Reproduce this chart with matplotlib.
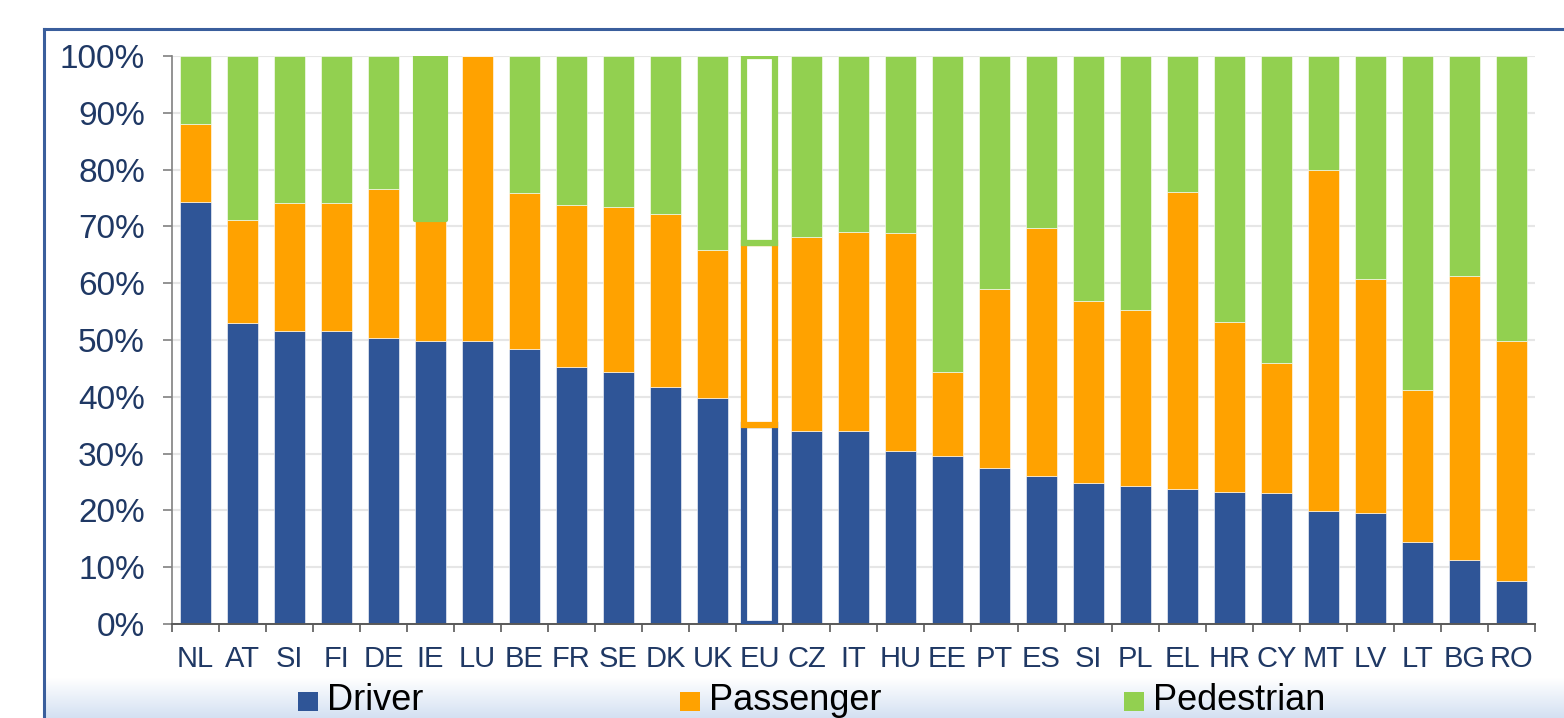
import numpy as np
import matplotlib.pyplot as plt
from matplotlib.patches import Rectangle
from matplotlib.lines import Line2D

# Data: share of road deaths by road user type (%)
countries = ["NL", "AT", "SI", "FI", "DE", "IE", "LU", "BE", "FR", "SE", "DK", "UK", "EU",
             "CZ", "IT", "HU", "EE", "PT", "ES", "SI", "PL", "EL", "HR", "CY", "MT", "LV",
             "LT", "BG", "RO"]
driver = [74.3, 53.0, 51.5, 51.5, 50.4, 49.9, 49.9, 48.5, 45.3, 44.3, 41.8, 39.8, 35.0,
          34.0, 33.9, 30.4, 29.5, 27.5, 26.0, 24.9, 24.3, 23.8, 23.3, 23.0, 19.9, 19.5,
          14.5, 11.2, 7.6]
passenger = [13.7, 18.2, 22.7, 22.7, 26.2, 21.3, 50.1, 27.3, 28.5, 29.1, 30.3, 26.1, 32.1,
             34.2, 35.2, 38.4, 14.8, 31.4, 43.8, 31.9, 30.9, 52.2, 29.8, 23.0, 60.1, 41.3,
             26.7, 50.0, 42.2]
pedestrian = [12.0, 28.8, 25.8, 25.8, 23.4, 28.8, 0.0, 24.2, 26.2, 26.6, 27.9, 34.1, 32.9,
              31.8, 30.9, 31.2, 55.7, 41.1, 30.2, 43.2, 44.8, 24.0, 46.9, 54.0, 20.0, 39.2,
              58.8, 38.8, 50.2]
series_names = ["Driver", "Passenger", "Pedestrian"]
colors = ["#2F5597", "#FFA200", "#92D050"]
highlight = "EU"

text_col = "#1F3864"

fig = plt.figure(figsize=(15.64, 7.18), dpi=100)

# light blue gradient strip behind the legend (white at top, blue at bottom)
grad = fig.add_axes([45 / 1564, 0, 1 - 45 / 1564, 40 / 718], zorder=-1)
g = np.linspace(0, 1, 100).reshape(-1, 1)
c0 = np.array([1.0, 1.0, 1.0])
c1 = np.array([0.83, 0.88, 0.95])
img = c0 + (c1 - c0) * g[:, :, None] * np.ones((1, 2, 1))
grad.imshow(img, aspect="auto", extent=[0, 1, 0, 1])
grad.axis("off")

ax = fig.add_axes([172 / 1564, 1 - 624 / 718, (1535 - 172) / 1564, (624 - 56) / 718])

x = np.arange(len(countries))
w = 0.68
bottoms = np.zeros(len(countries))
for vals, col, name in zip([driver, passenger, pedestrian], colors, series_names):
    vals = np.array(vals)
    for i in range(len(countries)):
        if countries[i] == highlight:
            ax.bar(x[i], vals[i], w, bottom=bottoms[i], facecolor="white",
                   edgecolor=col, linewidth=4.5, zorder=3)
        elif countries[i] == "IE" and name == "Pedestrian":
            ax.bar(x[i], vals[i], w, bottom=bottoms[i], color=col,
                   edgecolor=col, linewidth=3, joinstyle="round", zorder=3)
        else:
            ax.bar(x[i], vals[i], w, bottom=bottoms[i], color=col,
                   edgecolor="white", linewidth=0.4, zorder=2)
    bottoms += vals

ax.set_xlim(-0.5, len(countries) - 0.5)
ax.set_ylim(0, 100)
ax.set_yticks(np.arange(0, 101, 10))
ax.set_yticklabels([f"{v}%" for v in range(0, 101, 10)], fontsize=24, color=text_col,
                   fontfamily="Liberation Sans")
ax.set_xticks(x)
ax.set_xticklabels(countries, fontsize=21, color=text_col, fontfamily="Liberation Sans")
ax.set_xticks(np.arange(-0.5, len(countries), 1), minor=True)
ax.tick_params(axis="x", which="major", length=0, pad=15)
ax.tick_params(axis="x", which="minor", length=5.5, width=1.2, color="#595959", direction="out")
ax.tick_params(axis="y", length=6.5, width=1.2, color="#808080", pad=13, direction="out")

ax.grid(axis="y", color="#E6E6E6", linewidth=1.5, zorder=0)
ax.set_axisbelow(True)
for s in ["top", "right"]:
    ax.spines[s].set_visible(False)
ax.spines["left"].set_color("#808080")
ax.spines["left"].set_linewidth(1.2)
ax.spines["bottom"].set_color("#595959")
ax.spines["bottom"].set_linewidth(1.4)

# outer frame lines
fig.add_artist(Line2D([44 / 1564, 1], [1 - 29 / 718, 1 - 29 / 718], transform=fig.transFigure,
                      color="#3A5E9C", linewidth=2.2))
fig.add_artist(Line2D([44 / 1564, 44 / 1564], [0, 1 - 29 / 718], transform=fig.transFigure,
                      color="#3A5E9C", linewidth=2.2))

# legend
leg_x = [298, 680, 1124]
for px, name, col in zip(leg_x, series_names, colors):
    fig.add_artist(Rectangle((px / 1564, 1 - 711 / 718), 20 / 1564, 19 / 718,
                             transform=fig.transFigure, facecolor=col, edgecolor="none"))
    fig.text((px + 29) / 1564, 1 - 701 / 718, name, fontsize=26, color="black",
             va="center", ha="left", fontfamily="Liberation Sans")

fig.savefig("out.png", dpi=100)
